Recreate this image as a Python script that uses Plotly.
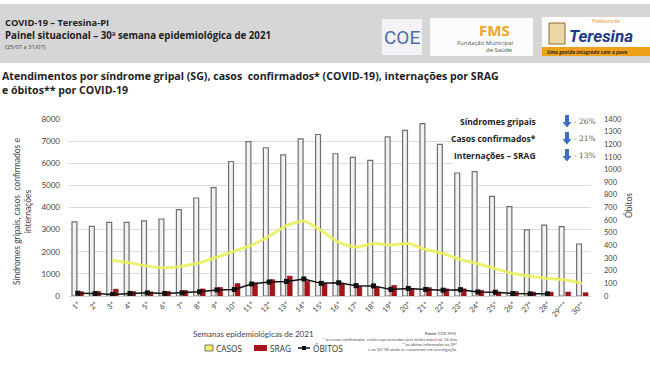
import plotly.graph_objects as go

# ---------------- data ----------------
weeks = [f"{i}ª" for i in range(1, 29)] + ["29ª**", "30ª*"]

sindromes_gripais = [3350, 3150, 3330, 3330, 3400, 3480, 3900, 4430, 4900, 6080,
                     6980, 6700, 6380, 7100, 7300, 6430, 6270, 6130, 7190, 7490,
                     7790, 6850, 5560, 5620, 4500, 4040, 2990, 3200, 3140, 2350]

casos_mm14 = [None, None, 1620, 1500, 1350, 1280, 1350, 1500, 1750, 2030,
              2300, 2700, 3180, 3390, 2950, 2420, 2210, 2370, 2300, 2370,
              2100, 1920, 1650, 1460, 1240, 1020, 900, 790, 740, 570]

srag = [200, 210, 310, 210, 190, 210, 250, 320, 390, 565,
        595, 740, 900, 670, 575, 560, 430, 410, 480, 340,
        380, 325, 325, 255, 180, 200, 175, 175, 180, 150]

obitos = [22, 20, 12, 20, 25, 20, 25, 33, 48, 52,
          95, 110, 115, 135, 100, 105, 82, 80, 52, 60,
          52, 46, 50, 32, 30, 20, 17, 17, None, None]

left_ticks = [0, 1000, 2000, 3000, 4000, 5000, 6000, 7000, 8000]
right_ticks = list(range(0, 1500, 100))

var_labels = ["Síndromes gripais", "Casos confirmados*", "Internações – SRAG"]
var_values = ["- 26%", "- 21%", "- 13%"]

COL_SG_FILL, COL_SG_LINE = "#f2f2f2", "#6e6e6e"
COL_SRAG = "#a8141a"
COL_CASOS = "rgba(236,240,92,0.9)"
COL_OBITOS = "#111111"

# ---------------- layout helpers (pixel -> paper) ----------------
W, H = 650, 367
ML, MR, MT, MB = 69, 59, 119, 71
PW, PH = W - ML - MR, H - MT - MB


def px(x):
    return (x - ML) / PW


def py(y):
    return (H - MB - y) / PH


FONT = "Open Sans"
TICKF = "Lato"

fig = go.Figure()

fig.add_trace(go.Bar(
    x=weeks, y=sindromes_gripais, name="Síndromes gripais", showlegend=False,
    marker=dict(color=COL_SG_FILL, line=dict(color=COL_SG_LINE, width=1.2)),
    yaxis="y",
))
fig.add_trace(go.Bar(
    x=weeks, y=srag, name="SRAG", showlegend=False,
    marker=dict(color=COL_SRAG, line=dict(color="#7a0c10", width=0.5)),
    yaxis="y",
))
fig.add_trace(go.Scatter(
    x=weeks, y=casos_mm14, name="CASOS", mode="lines", showlegend=False,
    line=dict(color=COL_CASOS, width=3, shape="spline", smoothing=0.6),
    yaxis="y",
))
fig.add_trace(go.Scatter(
    x=weeks, y=obitos, name="ÓBITOS", mode="lines+markers", showlegend=False,
    line=dict(color=COL_OBITOS, width=1.5),
    marker=dict(symbol="square", size=5, color=COL_OBITOS),
    yaxis="y2",
))

fig.update_layout(
    width=W, height=H,
    margin=dict(l=ML, r=MR, t=MT, b=MB, autoexpand=False),
    paper_bgcolor="white", plot_bgcolor="white",
    barmode="group", bargap=0.25, bargroupgap=0.25,
    font=dict(family=TICKF, color="#444"),
    showlegend=False,
    xaxis=dict(
        tickangle=-45, tickfont=dict(size=7.5, color="#444", family=TICKF),
        showgrid=False, showline=True, linecolor="#d0d0d0", linewidth=1,
        ticks="", range=[-0.5, 29.5],
    ),
    yaxis=dict(
        range=[0, 8000], tickvals=left_ticks, showgrid=True, gridcolor="#dcdcdc",
        gridwidth=1, zeroline=False, tickfont=dict(size=8, color="#444", family=TICKF),
        ticklabelstandoff=8,
    ),
    yaxis2=dict(
        range=[0, 1400], tickvals=right_ticks, overlaying="y", side="right",
        showgrid=False, zeroline=False,
        tickfont=dict(size=7.5, color="#444", family=TICKF), ticklabelstandoff=12,
    ),
)

shapes = []
ann = []

# header band
shapes.append(dict(type="rect", xref="paper", yref="paper", x0=px(-2), x1=px(W + 2),
                   y0=py(63), y1=py(4), fillcolor="#d6d6d6", line=dict(width=0), layer="above"))
ann += [
    dict(text="<b>COVID-19 – Teresina-PI</b>", x=px(3), y=py(23), xanchor="left", yanchor="middle",
         font=dict(size=9.3, color="#222", family=FONT)),
    dict(text="<b>Painel situacional – 30ª semana epidemiológica de 2021</b>", x=px(3), y=py(35.5),
         xanchor="left", yanchor="middle", font=dict(size=9.7, color="#222", family=FONT)),
    dict(text="(25/07 a 31/07)", x=px(3), y=py(47), xanchor="left", yanchor="middle",
         font=dict(size=5.8, color="#444", family=FONT)),
]

# logos (approximations)
shapes.append(dict(type="rect", xref="paper", yref="paper", x0=px(382), x1=px(422),
                   y0=py(55), y1=py(19), fillcolor="#f3f3f7", line=dict(width=0), layer="above"))
ann.append(dict(text="COE", x=px(402), y=py(37), xanchor="center", yanchor="middle",
                font=dict(size=19, color="#4b6ea8", family="Liberation Sans Narrow, Roboto")))
shapes.append(dict(type="rect", xref="paper", yref="paper", x0=px(430), x1=px(533),
                   y0=py(56), y1=py(18), fillcolor="#fbfbfb", line=dict(width=0), layer="above"))
ann += [
    dict(text="<b>FMS</b>", x=px(494), y=py(30), xanchor="center", yanchor="middle",
         font=dict(size=15, color="#f0a526", family=FONT)),
    dict(text="Fundação Municipal", x=px(515), y=py(43), xanchor="right", yanchor="middle",
         font=dict(size=6, color="#555", family=FONT)),
    dict(text="de Saúde", x=px(515), y=py(50), xanchor="right", yanchor="middle",
         font=dict(size=6, color="#555", family=FONT)),
]
shapes.append(dict(type="rect", xref="paper", yref="paper", x0=px(542), x1=px(652),
                   y0=py(56), y1=py(17), fillcolor="#fdfdfd", line=dict(width=0), layer="above"))
shapes.append(dict(type="rect", xref="paper", yref="paper", x0=px(542), x1=px(652),
                   y0=py(56), y1=py(47), fillcolor="#f0a11c", line=dict(width=0), layer="above"))
shapes.append(dict(type="rect", xref="paper", yref="paper", x0=px(549), x1=px(565),
                   y0=py(44), y1=py(23), fillcolor="#e9d9a6", line=dict(color="#8a6a20", width=1),
                   layer="above"))
ann += [
    dict(text="<b><i>Teresina</i></b>", x=px(567), y=py(36), xanchor="left", yanchor="middle",
         font=dict(size=17, color="#1d3a8a", family="Roboto")),
    dict(text="Prefeitura de", x=px(606), y=py(21), xanchor="center", yanchor="middle",
         font=dict(size=4.5, color="#e08a10", family=FONT)),
    dict(text="<i><b>Uma gestão integrada com o povo</b></i>", x=px(545), y=py(52), xanchor="left",
         yanchor="middle", font=dict(size=5, color="#3a2a10", family=FONT)),
]

# chart title (two lines)
ann.append(dict(
    text="<b>Atendimentos por síndrome gripal (SG), casos  confirmados* (COVID-19), internações por SRAG"
         "<br>e óbitos** por COVID-19</b>",
    x=px(0), y=py(82.5), xanchor="left", yanchor="middle", align="left",
    font=dict(size=10.6, color="#1e1e1e", family=FONT)))

# axis titles
ann += [
    dict(text="Síndromes gripais, casos  confirmados e<br>internações", x=px(22), y=py(212),
         textangle=-90, xanchor="center", yanchor="middle",
         font=dict(size=8.5, color="#444", family=TICKF)),
    dict(text="Óbitos", x=px(628), y=py(206), textangle=-90, xanchor="center", yanchor="middle",
         font=dict(size=8.5, color="#444", family=TICKF)),
    dict(text="Semanas epidemiológicas de 2021", x=px(253), y=py(334), xanchor="center",
         yanchor="middle", font=dict(size=8, color="#444", family=TICKF)),
]

# variation box
shapes.append(dict(type="rect", xref="paper", yref="paper", x0=px(452), x1=px(600),
                   y0=py(166), y1=py(109), fillcolor="white", line=dict(width=0), layer="above"))


def arrow_path(cx, cy):
    pts = [(cx - 2, cy - 6), (cx + 2, cy - 6), (cx + 2, cy + 1), (cx + 4.5, cy + 1),
           (cx, cy + 6.5), (cx - 4.5, cy + 1), (cx - 2, cy + 1)]
    return "M " + " L ".join(f"{px(a):.5f},{py(b):.5f}" for a, b in pts) + " Z"


for i, (lab, val) in enumerate(zip(var_labels, var_values)):
    yy = 121 + i * 17
    ann.append(dict(text=f"<b>{lab}</b>", x=px(538), y=py(yy), xanchor="right", yanchor="middle",
                    font=dict(size=8.5, color="#1e1e1e", family=FONT)))
    ann.append(dict(text=val, x=px(598), y=py(yy), xanchor="right", yanchor="middle",
                    font=dict(size=7.5, color="#555", family="DejaVu Serif")))
    shapes.append(dict(type="path", xref="paper", yref="paper", path=arrow_path(567, yy),
                       fillcolor="#3b6fbf", line=dict(width=0), layer="above"))

# manual legend (compact, as in the reference)
LY = 348
shapes += [
    dict(type="rect", xref="paper", yref="paper", x0=px(205), x1=px(213), y0=py(351), y1=py(345),
         fillcolor=COL_CASOS, line=dict(color="#555", width=0.8), layer="above"),
    dict(type="rect", xref="paper", yref="paper", x0=px(254), x1=px(267), y0=py(351), y1=py(345),
         fillcolor=COL_SRAG, line=dict(width=0), layer="above"),
    dict(type="line", xref="paper", yref="paper", x0=px(298), x1=px(310), y0=py(LY), y1=py(LY),
         line=dict(color=COL_OBITOS, width=1.5), layer="above"),
    dict(type="rect", xref="paper", yref="paper", x0=px(302), x1=px(306), y0=py(LY + 2), y1=py(LY - 2),
         fillcolor=COL_OBITOS, line=dict(width=0), layer="above"),
]
for name, x0 in [(fig.data[2].name, 214), (fig.data[1].name, 268), (fig.data[3].name, 311)]:
    ann.append(dict(text=name, x=px(x0), y=py(LY), xanchor="left", yanchor="middle",
                    font=dict(size=8.3, color="#333", family=FONT)))

# notes
notes = [("<b>Fonte:</b> COE FMS", 333),
         ("* os casos confirmados  estão representados pela média móvel de 14 dias", 339),
         ("**os óbitos informados na 29ª", 344),
         ("e na 30ª SE ainda se encontram em investigação", 349)]
for t, yy in notes:
    ann.append(dict(text=t, x=px(459), y=py(yy), xanchor="right", yanchor="middle",
                    font=dict(size=4.2, color="#555", family=TICKF)))

for a in ann:
    a.setdefault("xref", "paper")
    a.setdefault("yref", "paper")
    a.setdefault("showarrow", False)

fig.update_layout(shapes=shapes, annotations=ann)

fig.write_html(
    "out.html",
    config={"displayModeBar": False},
    post_script="document.body.style.margin='0px';document.body.style.overflow='hidden';",
)
